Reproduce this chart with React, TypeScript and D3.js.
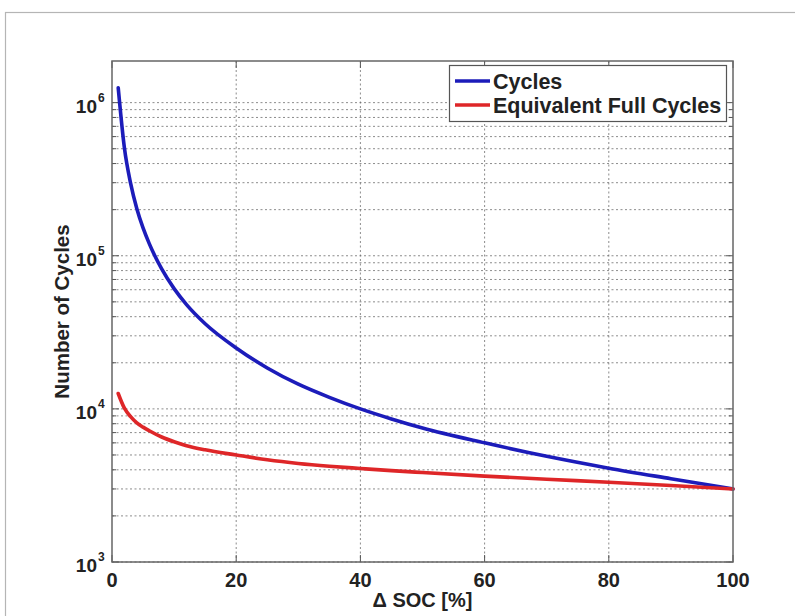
import React from "react";
import * as d3 from "d3";

const socValues = [1, 2, 3, 4, 5, 6, 8, 10, 12, 15, 20, 25, 30, 35, 40, 45, 50, 60, 70, 80, 90, 100];
const cyclesValues = [1250000, 505000, 297000, 203000, 152000, 120000, 82000, 61000, 48000, 36000, 25000, 18500, 14500, 11900, 10000, 8600, 7500, 6000, 4900, 4100, 3500, 3000];
const efcValues = [12600, 10100, 8900, 8100, 7600, 7200, 6550, 6100, 5750, 5400, 5000, 4650, 4400, 4220, 4080, 3950, 3840, 3640, 3470, 3320, 3160, 3000];
const xTicks = [0, 20, 40, 60, 80, 100];
const yDecades = [3, 4, 5, 6];
const seriesNames = ["Cycles", "Equivalent Full Cycles"];
const xLabel = "\u0394 SOC [%]";
const yLabel = "Number of Cycles";

const W = 795;
const H = 616;
const L = 112, R = 733, T = 61, B = 562;
const FONT = "'Liberation Sans', Arial, Helvetica, sans-serif";

export default function App() {
  const x = d3.scaleLinear().domain([0, 100]).range([L, R]);
  const y = d3.scaleLog().domain([1000, 1870000]).range([B, T]);

  const minor: number[] = [];
  for (let e = 3; e <= 6; e++) {
    for (let m = 1; m <= 9; m++) {
      const v = m * Math.pow(10, e);
      if (v >= 1000 && v <= 1870000) minor.push(v);
    }
  }

  const line = d3
    .line<[number, number]>()
    .x((d) => x(d[0]))
    .y((d) => y(d[1]))
    .curve(d3.curveMonotoneX);

  const blue = line(socValues.map((s, i) => [s, cyclesValues[i]] as [number, number])) || "";
  const red = line(socValues.map((s, i) => [s, efcValues[i]] as [number, number])) || "";

  const gridStyle = { stroke: "#666", strokeWidth: 1, strokeDasharray: "2,2.5", opacity: 0.75 };

  return (
    <svg
      width={W}
      height={H}
      style={{ position: "absolute", left: 0, top: 0, background: "#fff" }}
      fontFamily={FONT}
    >
      <rect x={0} y={0} width={W} height={H} fill="#fff" />
      <rect x={5.5} y={12.5} width={900} height={700} fill="none" stroke="#b5b5b5" strokeWidth={1.2} />

      {minor.map((v, i) => (
        <line key={"hg" + i} x1={L} x2={R} y1={y(v)} y2={y(v)} {...gridStyle} />
      ))}
      {xTicks.slice(1, -1).map((t) => (
        <line key={"vg" + t} x1={x(t)} x2={x(t)} y1={T} y2={B} {...gridStyle} />
      ))}

      {minor.map((v, i) => {
        const major = Math.abs(Math.log10(v) - Math.round(Math.log10(v))) < 1e-9;
        const len = major ? 7 : 4;
        return (
          <g key={"yt" + i} stroke="#555" strokeWidth={1}>
            <line x1={L} x2={L + len} y1={y(v)} y2={y(v)} />
            <line x1={R} x2={R - len} y1={y(v)} y2={y(v)} />
          </g>
        );
      })}
      {xTicks.map((t) => (
        <g key={"xt" + t} stroke="#555" strokeWidth={1}>
          <line x1={x(t)} x2={x(t)} y1={B} y2={B - 7} />
          <line x1={x(t)} x2={x(t)} y1={T} y2={T + 7} />
        </g>
      ))}

      <path d={blue} fill="none" stroke="#1c1cba" strokeWidth={3.6} strokeLinejoin="round" strokeLinecap="round" />
      <path d={red} fill="none" stroke="#de2628" strokeWidth={3.6} strokeLinejoin="round" strokeLinecap="round" />

      <rect x={L} y={T} width={R - L} height={B - T} fill="none" stroke="#666" strokeWidth={1.5} />

      {yDecades.map((e) => {
        const yy = y(Math.pow(10, e));
        return (
          <g key={"yl" + e} fill="#222" fontWeight="bold">
            <text x={97} y={yy + 10} textAnchor="end" fontSize={19}>
              10
            </text>
            <text x={98} y={yy - 1} textAnchor="start" fontSize={12}>
              {e}
            </text>
          </g>
        );
      })}

      {xTicks.map((t) => (
        <text key={"xl" + t} x={x(t)} y={587} textAnchor="middle" fontSize={20} fontWeight="bold" fill="#222">
          {t}
        </text>
      ))}

      <text x={(L + R) / 2} y={607} textAnchor="middle" fontSize={20} fontWeight="bold" fill="#222">
        {xLabel}
      </text>
      <text
        transform={`translate(69, ${(T + B) / 2}) rotate(-90)`}
        textAnchor="middle"
        fontSize={20.5}
        fontWeight="bold"
        fill="#222"
      >
        {yLabel}
      </text>

      <g>
        <rect x={449.5} y={65.5} width={277} height={56} fill="#fff" stroke="#555" strokeWidth={1.2} />
        <line x1={455} x2={490} y1={81} y2={81} stroke="#1c1cba" strokeWidth={3.6} />
        <line x1={455} x2={490} y1={105} y2={105} stroke="#de2628" strokeWidth={3.6} />
        <text x={493} y={88.5} fontSize={21.5} fontWeight="bold" fill="#222">
          {seriesNames[0]}
        </text>
        <text x={493} y={113} fontSize={21.5} fontWeight="bold" fill="#222">
          {seriesNames[1]}
        </text>
      </g>
    </svg>
  );
}
